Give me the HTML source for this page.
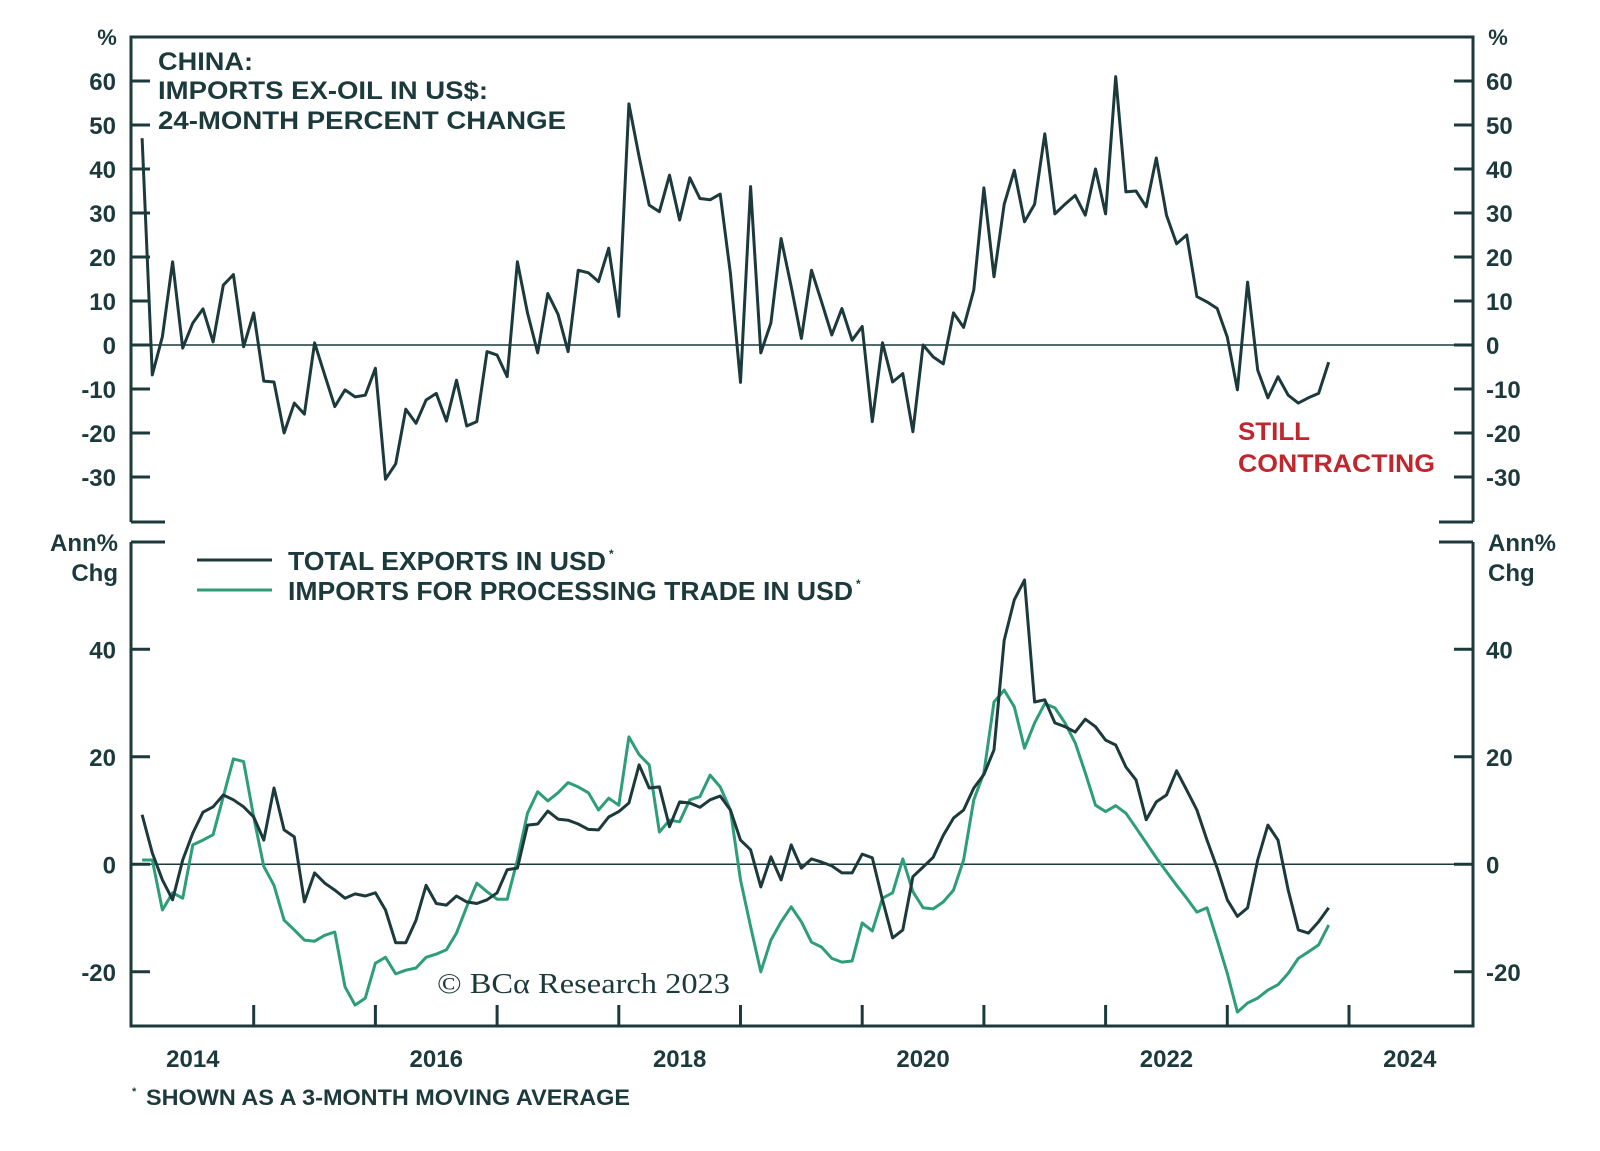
<!DOCTYPE html>
<html><head><meta charset="utf-8"><style>
html,body{margin:0;padding:0;background:#fff;}
svg text{font-family:"Liberation Sans",sans-serif;font-weight:bold;fill:#1c3a3c;}
</style></head><body>
<svg id="chart" width="1600" height="1146" viewBox="0 0 1600 1146" xmlns="http://www.w3.org/2000/svg">
<g id="frame" stroke="#1c3a3c" stroke-width="3" fill="none">
  <path d="M131,522 V37 H1473 V522"/>
  <path d="M131,522 H165"/>
  <path d="M1439,522 H1473"/>
  <path d="M131,542 V1026 H1473 V542"/>
  <path d="M131,542 H165"/>
  <path d="M1439,542 H1473"/>
</g>
<g id="axes"></g>
<g id="series"></g>
<text x="107" y="45" font-size="22" text-anchor="middle">%</text>
<text x="1498" y="45" font-size="22" text-anchor="middle">%</text>
<g font-size="25">
  <text x="158" y="70" textLength="95" lengthAdjust="spacingAndGlyphs">CHINA:</text>
  <text x="158" y="99" textLength="330" lengthAdjust="spacingAndGlyphs">IMPORTS EX-OIL IN US$:</text>
  <text x="158" y="129" textLength="408" lengthAdjust="spacingAndGlyphs">24-MONTH PERCENT CHANGE</text>
</g>
<g font-size="25">
  <text x="1238" y="440" style="fill:#c0262d" textLength="72" lengthAdjust="spacingAndGlyphs">STILL</text>
  <text x="1238" y="472" style="fill:#c0262d" textLength="197" lengthAdjust="spacingAndGlyphs">CONTRACTING</text>
</g>
<g font-size="24" text-anchor="end">
  <text x="118" y="551">Ann%</text><text x="118" y="581">Chg</text>
</g>
<g font-size="24">
  <text x="1488" y="551">Ann%</text><text x="1488" y="581">Chg</text>
</g>
<g>
  <line x1="197" y1="560" x2="272" y2="560" stroke="#1c3a3c" stroke-width="3"/>
  <text x="288" y="570" font-size="26" textLength="318" lengthAdjust="spacingAndGlyphs">TOTAL EXPORTS IN USD</text>
  <text x="609" y="558" font-size="12">*</text>
  <line x1="197" y1="590" x2="272" y2="590" stroke="#2e9e78" stroke-width="3"/>
  <text x="288" y="600" font-size="26" textLength="565" lengthAdjust="spacingAndGlyphs">IMPORTS FOR PROCESSING TRADE IN USD</text>
  <text x="856" y="588" font-size="12">*</text>
</g>
<text x="437" y="993" font-size="29" style="font-family:'Liberation Serif',serif;font-weight:normal" textLength="293" lengthAdjust="spacingAndGlyphs">© BCα Research 2023</text>
<text x="132" y="1095" font-size="11">*</text>
<text x="146" y="1105" font-size="22" textLength="484" lengthAdjust="spacingAndGlyphs">SHOWN AS A 3-MONTH MOVING AVERAGE</text>
<script>
const topValues = [47,-6.8,1.9,18.9,-0.7,5,8.2,0.7,13.6,16,-0.4,7.3,-8.2,-8.4,-20,-13.2,-15.7,0.5,-6.8,-14,-10.2,-11.8,-11.4,-5.3,-30.5,-27,-14.6,-17.8,-12.5,-11,-17.3,-8,-18.4,-17.4,-1.5,-2.3,-7.2,18.9,7.3,-1.8,11.7,7,-1.5,17,16.4,14.4,22,6.5,54.8,42.8,31.8,30.3,38.6,28.4,38,33.3,33,34.3,16.3,-8.5,36,-1.8,5,24.2,13.3,1.5,17,9.8,2.3,8.3,1.1,4.2,-17.4,0.5,-8.4,-6.5,-19.7,0,-2.7,-4.3,7.3,4,12.5,35.7,15.5,32,39.7,28,32,48,29.8,32,34,29.5,40,29.8,61,34.8,35,31.4,42.5,29.5,23,25,11,9.8,8.3,1.8,-10.2,14.3,-5.7,-12,-7.2,-11.4,-13.2,-12,-11,-3.9];
const exportsValues = [9.2,2.1,-2.9,-6.6,0.8,5.8,9.7,10.7,12.9,12,10.7,8.8,4.5,14.2,6.4,5.1,-7,-1.6,-3.5,-4.8,-6.3,-5.5,-5.9,-5.3,-8.5,-14.6,-14.6,-10.4,-3.9,-7.3,-7.6,-5.9,-7,-7.3,-6.6,-5.3,-1,-0.7,7.3,7.5,9.9,8.4,8.2,7.5,6.5,6.4,8.8,9.8,11.4,18.5,14.2,14.4,7,11.6,11.4,10.6,12,12.7,10.1,4.5,2.7,-4.2,1.4,-2.9,3.6,-0.7,1,0.4,-0.3,-1.6,-1.6,1.9,1.2,-6.6,-13.7,-12.2,-2.3,-0.5,1.3,5.4,8.6,10.1,14.2,16.7,21.3,41.7,49.2,52.9,30.2,30.6,26.3,25.6,24.6,27,25.6,23.1,22.2,18.1,15.7,8.3,11.6,12.9,17.4,13.8,10.1,4.5,-0.7,-6.6,-9.7,-8.1,0.8,7.3,4.5,-4.8,-12.2,-12.8,-10.7,-8.1];
const importsValues = [0.8,0.8,-8.5,-5.3,-6.3,3.6,4.5,5.5,12.6,19.6,19.1,8.8,-0.4,-3.9,-10.4,-12.2,-14.1,-14.3,-13.2,-12.6,-22.8,-26.2,-24.9,-18.4,-17.3,-20.4,-19.7,-19.3,-17.3,-16.7,-15.9,-12.8,-7.9,-3.5,-5.1,-6.5,-6.5,0.8,9.5,13.5,11.8,13.3,15.2,14.4,13.3,10.1,12.3,11,23.7,20.4,18.5,6,8.2,7.9,12,12.6,16.6,14.4,10.1,-2.9,-11.6,-20,-14.1,-10.7,-7.9,-10.7,-14.5,-15.4,-17.5,-18.2,-18,-10.9,-12.4,-6.3,-5.3,1,-5.1,-8.1,-8.3,-7,-4.8,0.8,12,17,30.2,32.4,29.3,21.6,26.3,29.9,29.1,26.3,22.6,17,11,9.8,10.9,9.5,6.8,4,1.2,-1.4,-3.9,-6.3,-8.9,-8.1,-14.1,-20.3,-27.5,-25.8,-24.9,-23.4,-22.4,-20.3,-17.5,-16.3,-15,-11.3];
const topTicks = [60,50,40,30,20,10,0,-10,-20,-30];
const bottomTicks = [40,20,0,-20];
const yearTicks = [2015,2016,2017,2018,2019,2020,2021,2022,2023,2024];
const yearLabels = ["2014","2016","2018","2020","2022","2024"];
const startYear = 2014, startMonthOffset = 1;

const NS = "http://www.w3.org/2000/svg";
const X0 = 132, PX_PER_YEAR = 121.7;
function xTime(t){ return X0 + (t - startYear) * PX_PER_YEAR; }
function xIndex(i){ return xTime(startYear + (i + startMonthOffset) / 12); }
function yTop(v){ return 345 - v * 4.4; }
function yBot(v){ return 864.3 - v * 5.375; }
function mk(tag, attrs, parent){ const e = document.createElementNS(NS, tag); for (const k in attrs) e.setAttribute(k, attrs[k]); parent.appendChild(e); return e; }
const axes = document.getElementById('axes');
const series = document.getElementById('series');

let z1 = mk('line', {x1:131, x2:1473, y1:yTop(0), y2:yTop(0), stroke:'#1c3a3c', 'stroke-width':1.5}, axes);


let z2 = mk('line', {x1:131, x2:1473, y1:yBot(0), y2:yBot(0), stroke:'#1c3a3c', 'stroke-width':1.5}, axes);



topTicks.forEach(v => {
  const y = yTop(v);
  const t1 = mk('line', {x1:131, x2:150, y1:y, y2:y, stroke:'#1c3a3c', 'stroke-width':3}, axes);
  
  
  const t2 = mk('line', {x1:1454, x2:1473, y1:y, y2:y, stroke:'#1c3a3c', 'stroke-width':3}, axes);
  
  
  const l1 = mk('text', {x:116, y:y+9, 'font-size':24, 'text-anchor':'end'}, axes);
  l1.textContent = String(v);
  
  
  const l2 = mk('text', {x:1486, y:y+9, 'font-size':24}, axes);
  l2.textContent = String(v);
  
  
});
bottomTicks.forEach(v => {
  const y = yBot(v);
  const t1 = mk('line', {x1:131, x2:150, y1:y, y2:y, stroke:'#1c3a3c', 'stroke-width':3}, axes);
  
  
  const t2 = mk('line', {x1:1454, x2:1473, y1:y, y2:y, stroke:'#1c3a3c', 'stroke-width':3}, axes);
  
  
  const l1 = mk('text', {x:116, y:y+9, 'font-size':24, 'text-anchor':'end'}, axes);
  l1.textContent = String(v);
  
  
  const l2 = mk('text', {x:1486, y:y+9, 'font-size':24}, axes);
  l2.textContent = String(v);
  
  
});
yearTicks.forEach(yr => {
  const x = xTime(yr);
  const t = mk('line', {x1:x, x2:x, y1:1026, y2:1005, stroke:'#1c3a3c', 'stroke-width':3}, axes);
  
  
});
yearLabels.forEach(lbl => {
  const x = xTime(parseInt(lbl) + 0.5);
  const t = mk('text', {x:x, y:1067, 'font-size':24, 'text-anchor':'middle'}, axes);
  t.textContent = lbl;
  
  
});

function linePath(vals, yf){ return vals.map((v,i) => (i ? 'L' : 'M') + xIndex(i).toFixed(1) + ',' + yf(v).toFixed(1)).join(' '); }
const pTop = mk('path', {d:linePath(topValues, yTop), fill:'none', stroke:'#1c3a3c', 'stroke-width':3, 'stroke-linejoin':'round'}, series);


const pImp = mk('path', {d:linePath(importsValues, yBot), fill:'none', stroke:'#2e9e78', 'stroke-width':3, 'stroke-linejoin':'round'}, series);


const pExp = mk('path', {d:linePath(exportsValues, yBot), fill:'none', stroke:'#1c3a3c', 'stroke-width':3, 'stroke-linejoin':'round'}, series);


</script>
</svg>
</body></html>
